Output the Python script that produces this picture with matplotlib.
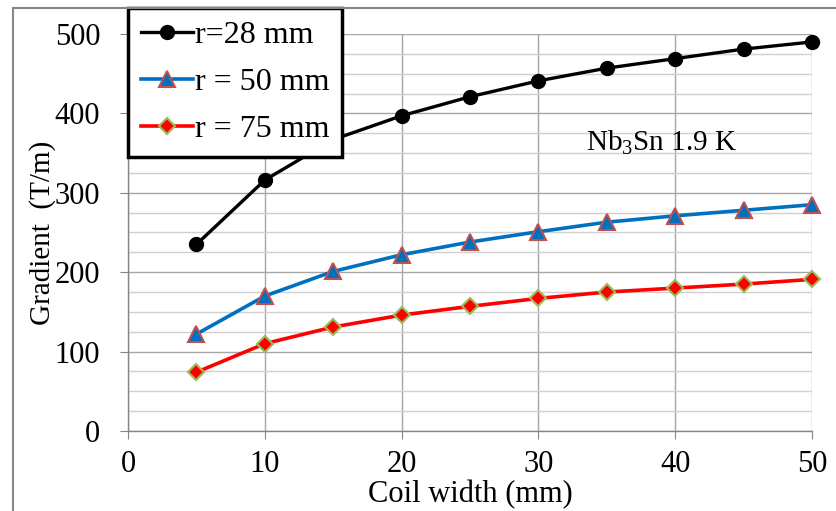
import matplotlib
matplotlib.use("Agg")
import matplotlib.pyplot as plt
from matplotlib.lines import Line2D
from matplotlib.ticker import MultipleLocator

plt.rcParams['font.family'] = ['Liberation Serif', 'DejaVu Serif']
plt.rcParams['mathtext.fontset'] = 'custom'
plt.rcParams['mathtext.rm'] = 'Liberation Serif'
plt.rcParams['mathtext.it'] = 'Liberation Serif:italic'

coil_width = [5, 10, 15, 20, 25, 30, 35, 40, 45, 50]
r28 = [235, 316, 367, 397, 421, 441, 457, 469, 481, 490]
r50 = [122, 170, 201, 222, 238, 251, 263, 271, 278, 285]
r75 = [74, 110, 131, 146, 157, 167, 175, 180, 185, 191]
labels = ['r=28 mm', 'r = 50 mm', 'r = 75 mm']
x_ticks = [0, 10, 20, 30, 40, 50]
y_ticks = [0, 100, 200, 300, 400, 500]

fs = 22
fig = plt.figure(figsize=(8.36, 5.11), dpi=100)
ax = fig.add_axes([128/836, 80/511, (812-128)/836, (431-34)/511])

ax.plot(coil_width, r28, color='black', lw=2.4, marker='o', ms=10,
        mfc='black', mec='black', label=labels[0], clip_on=False, zorder=5)
ax.plot(coil_width, r50, color='#0070C0', lw=2.6, marker='^', ms=12,
        mfc='#0070C0', mec='#C0504D', mew=1.5, label=labels[1], clip_on=False, zorder=5)
ax.plot(coil_width, r75, color='#FF0000', lw=2.6, marker='D', ms=8.5,
        mfc='#FF0000', mec='#9BBB59', mew=1.5, label=labels[2], clip_on=False, zorder=5)

ax.set_xlim(0, 50)
ax.set_ylim(0, 500)
ax.set_xticks(x_ticks)
ax.set_yticks(y_ticks)
ax.yaxis.set_minor_locator(MultipleLocator(25))
ax.grid(True, which='major', color='#A6A6A6', lw=1.0)
ax.grid(True, which='minor', axis='y', color='#D0D0D0', lw=1.0)
ax.set_axisbelow(True)
for s in ['top', 'right']:
    ax.spines[s].set_visible(False)
for s in ['left', 'bottom']:
    ax.spines[s].set_color('#868686')
    ax.spines[s].set_linewidth(1.0)
ax.tick_params(axis='x', which='major', direction='out', length=6,
               color='#868686', labelsize=fs, pad=8)
ax.tick_params(axis='y', which='major', direction='out', length=6,
               color='#868686', labelsize=fs, pad=14)
ax.tick_params(axis='both', which='minor', length=0)

ax.set_xlabel('Coil width (mm)', fontsize=22, labelpad=0)
ax.set_ylabel('Gradient  (T/m)', fontsize=21, labelpad=-1)

ax.text(39, 363, r'Nb$_3$Sn 1.9 K', fontsize=21, ha='center', va='center')

leg = ax.legend(loc='upper left', bbox_to_anchor=(128/836, 1 - 8/511),
                bbox_transform=fig.transFigure, borderaxespad=0,
                fontsize=23, frameon=True, fancybox=False, framealpha=1,
                handlelength=1.65, handletextpad=0.05, labelspacing=0.55,
                borderpad=0.4)
leg.get_frame().set_edgecolor('black')
leg.get_frame().set_linewidth(2.5)
leg.set_zorder(10)

# figure frame (left and top edges)
fig.add_artist(Line2D([13/836, 13/836], [0, 1 - 8/511], transform=fig.transFigure,
                      color='#868686', lw=1.5))
fig.add_artist(Line2D([13/836, 1], [1 - 8/511, 1 - 8/511], transform=fig.transFigure,
                      color='#868686', lw=1.5))

fig.savefig('out.png', dpi=100)
